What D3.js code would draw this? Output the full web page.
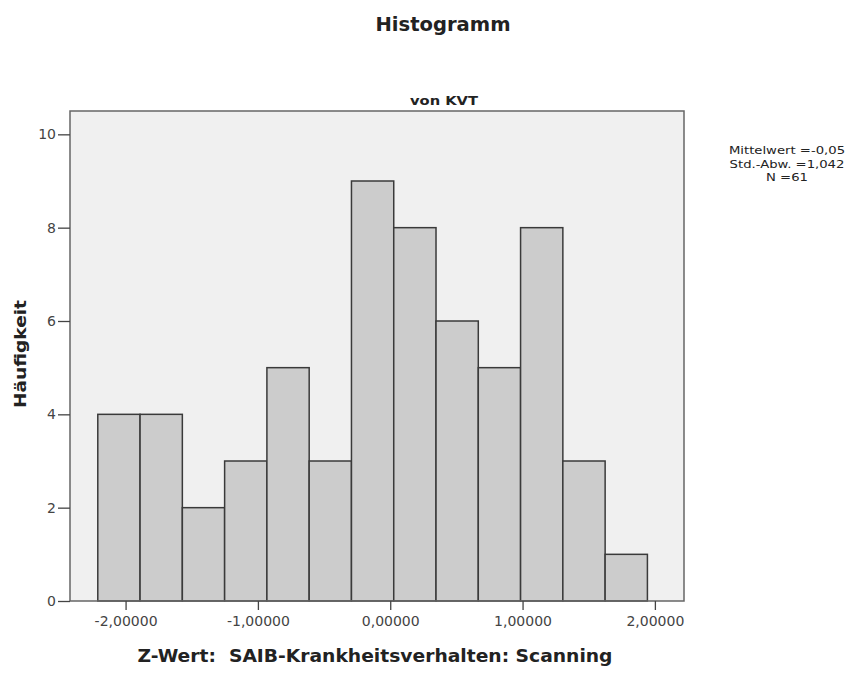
<!DOCTYPE html>
<html>
<head>
<meta charset="utf-8">
<script src="https://cdn.jsdelivr.net/npm/d3@7"></script>
<style>
  body { margin: 0; background: #fff; }
  text { font-family: "DejaVu Sans", Verdana, sans-serif; fill: #222; }
</style>
</head>
<body>
<div class="hist"></div>
<script>
// data
var counts = [4, 4, 2, 3, 5, 3, 9, 8, 6, 5, 8, 3, 1];
var binStart = -2.21;
var binWidth = 0.3195;
var xTicks = [-2, -1, 0, 1, 2];
var yTicks = [0, 2, 4, 6, 8, 10];
var stats = ["Mittelwert =-0,05", "Std.-Abw. =1,042", "N =61"];

var W = 857, H = 673;
var margin = {top: 111, left: 70, right: 173, bottom: 72};
var width = W - margin.left - margin.right,
    height = H - margin.top - margin.bottom;

var svg = d3.select(".hist").append("svg")
    .attr("width", W)
    .attr("height", H);

// titles
svg.append("text")
    .attr("x", 443).attr("y", 31)
    .attr("text-anchor", "middle")
    .attr("textLength", 135)
    .attr("lengthAdjust", "spacingAndGlyphs")
    .style("font-size", "19px").style("font-weight", "bold")
    .text("Histogramm");

svg.append("text")
    .attr("x", 444).attr("y", 105)
    .attr("text-anchor", "middle")
    .attr("textLength", 68)
    .attr("lengthAdjust", "spacingAndGlyphs")
    .style("font-size", "12px").style("font-weight", "bold")
    .text("von KVT");

var g = svg.append("g")
    .attr("transform", "translate(" + margin.left + "," + margin.top + ")");

var x = d3.scaleLinear().domain([-2.42, 2.22]).range([0, width]);
var y = d3.scaleLinear().domain([0, 10.5]).range([height, 0]);

// plot background
g.append("rect")
    .attr("width", width).attr("height", height)
    .style("fill", "#f0f0f0");

var bins = counts.map(function (c, i) {
    return {x0: binStart + i * binWidth, x1: binStart + (i + 1) * binWidth, n: c};
});

g.selectAll(".bar")
    .data(bins)
    .enter().append("rect")
    .attr("class", "bar")
    .attr("x", function (d) { return x(d.x0); })
    .attr("width", function (d) { return x(d.x1) - x(d.x0); })
    .attr("y", function (d) { return y(d.n); })
    .attr("height", function (d) { return height - y(d.n); })
    .style("fill", "#cccccc")
    .style("stroke", "#3a3a3a")
    .style("stroke-width", 1.5);

// frame
g.append("rect")
    .attr("width", width).attr("height", height)
    .style("fill", "none")
    .style("stroke", "#666")
    .style("stroke-width", 1.5);

// axes
var xAxis = g.append("g")
    .attr("transform", "translate(0," + height + ")")
    .call(d3.axisBottom(x).tickValues(xTicks).tickSize(9).tickPadding(6)
        .tickFormat(function (d) { return d3.format(".5f")(d).replace(".", ",").replace("−", "-"); }));
xAxis.select(".domain").remove();

var yAxis = g.append("g")
    .call(d3.axisLeft(y).tickValues(yTicks).tickSize(12).tickPadding(2));
yAxis.select(".domain").remove();

g.selectAll(".tick line").style("stroke", "#444").style("stroke-width", 1.3);
g.selectAll(".tick text").style("font-size", "14px").style("fill", "#444")
    .style("font-family", "'DejaVu Sans', Verdana, sans-serif");

// axis labels
svg.append("text")
    .attr("transform", "translate(26,354) rotate(-90)")
    .attr("text-anchor", "middle")
    .attr("textLength", 108)
    .attr("lengthAdjust", "spacingAndGlyphs")
    .style("font-size", "16px").style("font-weight", "bold")
    .text("Häufigkeit");

svg.append("text")
    .attr("x", 375).attr("y", 662)
    .attr("text-anchor", "middle")
    .attr("textLength", 475)
    .attr("lengthAdjust", "spacingAndGlyphs")
    .attr("xml:space", "preserve")
    .style("white-space", "pre")
    .style("font-size", "17px").style("font-weight", "bold")
    .text("Z-Wert:  SAIB-Krankheitsverhalten: Scanning");

// stats box
svg.append("g").selectAll("text")
    .data(stats)
    .enter().append("text")
    .attr("x", 787)
    .attr("y", function (d, i) { return 154 + i * 13.5; })
    .attr("text-anchor", "middle")
    .style("font-size", "11px")
    .text(function (d) { return d; })
    .each(function () {
        d3.select(this)
            .attr("textLength", this.getComputedTextLength() * 1.2)
            .attr("lengthAdjust", "spacingAndGlyphs");
    });
</script>
</body>
</html>
